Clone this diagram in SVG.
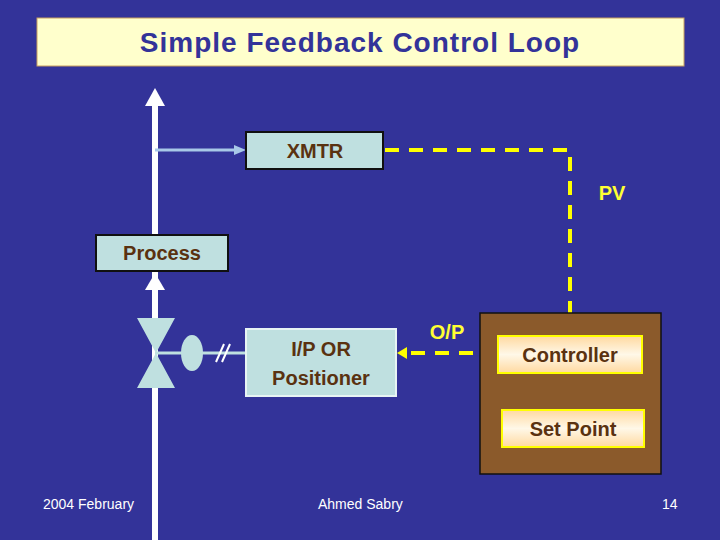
<svg xmlns="http://www.w3.org/2000/svg" width="720" height="540" viewBox="0 0 720 540">
<defs>
<style>
text{font-family:"Liberation Sans",Arial,sans-serif;font-weight:bold}
.box{fill:#bfe0e0;stroke:#101010;stroke-width:2}
.lbl{fill:#5a3210;font-size:20px;text-anchor:middle}
.ylbl{fill:#ffff33;font-size:20px;text-anchor:middle}
.dash{stroke:#ffff00;stroke-width:4;stroke-dasharray:14,10;fill:none}
.foot{fill:#ffffff;font-size:14px;font-weight:normal;font-family:"Liberation Sans",Arial,sans-serif}
</style>
<linearGradient id="g" x1="0" y1="0" x2="0" y2="1"><stop offset="0" stop-color="#ffd9a0"/><stop offset="0.5" stop-color="#fff8e8"/><stop offset="1" stop-color="#ffd9a0"/></linearGradient>
<marker id="ya" viewBox="0 0 10 10" refX="9" refY="5" markerWidth="3" markerHeight="3" orient="auto"><path d="M0,0L10,5L0,10z" fill="#ffff00"/></marker>
</defs>
<rect width="720" height="540" fill="#333399"/>
<g id="title"><rect x="37" y="18" width="647" height="48" fill="#ffffcc" stroke="#c8a060" stroke-width="1"/>
<text x="360" y="52" font-size="28" fill="#333399" text-anchor="middle" letter-spacing="1">Simple Feedback Control Loop</text></g>
<g id="connectors">
<line x1="155" y1="540" x2="155" y2="104" stroke="#fff" stroke-width="6"/>
<path d="M145,106L155,88L165,106z" fill="#fff"/>
<path d="M145,290L155,273L165,290z" fill="#fff"/>
<line x1="155" y1="150" x2="236" y2="150" stroke="#a8c8e8" stroke-width="3"/>
<path d="M234,145L246,150L234,155z" fill="#a8c8e8"/>
<line x1="155" y1="353" x2="246" y2="353" stroke="#bfe0e0" stroke-width="3"/>
<line x1="216" y1="362" x2="224" y2="344" stroke="#fff" stroke-width="2"/>
<line x1="222" y1="362" x2="230" y2="344" stroke="#fff" stroke-width="2"/>
<path class="dash" d="M385,150H570V328"/>
<path d="M564,326L570,336L576,326z" fill="#ffff00"/>
<path class="dash" d="M497,353H405"/>
<path d="M407,347L397,353L407,359z" fill="#ffff00"/>
<path class="dash" d="M570,409V382" stroke-dasharray="14,8"/>
<path d="M564,383L570,373L576,383z" fill="#ffff00"/>
</g>
<g id="valve"><path d="M137,318H175L156,353L175,388H137L156,353z" fill="#bfe0e0"/>
<ellipse cx="192" cy="353" rx="11" ry="18" fill="#bfe0e0"/></g>
<g id="xmtr"><rect class="box" x="246" y="132" width="137" height="37"/><text class="lbl" x="315" y="158">XMTR</text></g>
<g id="pv"><text class="ylbl" x="612" y="200">PV</text></g>
<g id="process"><rect class="box" x="96" y="235" width="132" height="36"/><text class="lbl" x="162" y="260">Process</text></g>
<g id="ip"><rect x="246" y="329" width="150" height="67" fill="#bfe0e0" stroke="#e8f4f4" stroke-width="2"/><text class="lbl" x="321" y="356">I/P OR</text><text class="lbl" x="321" y="385">Positioner</text></g>
<g id="op"><text class="ylbl" x="447" y="339">O/P</text></g>
<rect x="480" y="313" width="181" height="161" fill="#8b5a2b" stroke="#111" stroke-width="1.5"/>
<g id="controller"><rect x="498" y="336" width="144" height="37" fill="url(#g)" stroke="#ffff00" stroke-width="2"/><text class="lbl" x="570" y="362">Controller</text></g>
<g id="setpoint"><rect x="502" y="410" width="142" height="37" fill="url(#g)" stroke="#ffff00" stroke-width="2"/><text class="lbl" x="573" y="436">Set Point</text></g>
<g id="footer"><text class="foot" x="43" y="509">2004 February</text><text class="foot" x="318" y="509">Ahmed Sabry</text><text class="foot" x="662" y="509">14</text></g>
</svg>
